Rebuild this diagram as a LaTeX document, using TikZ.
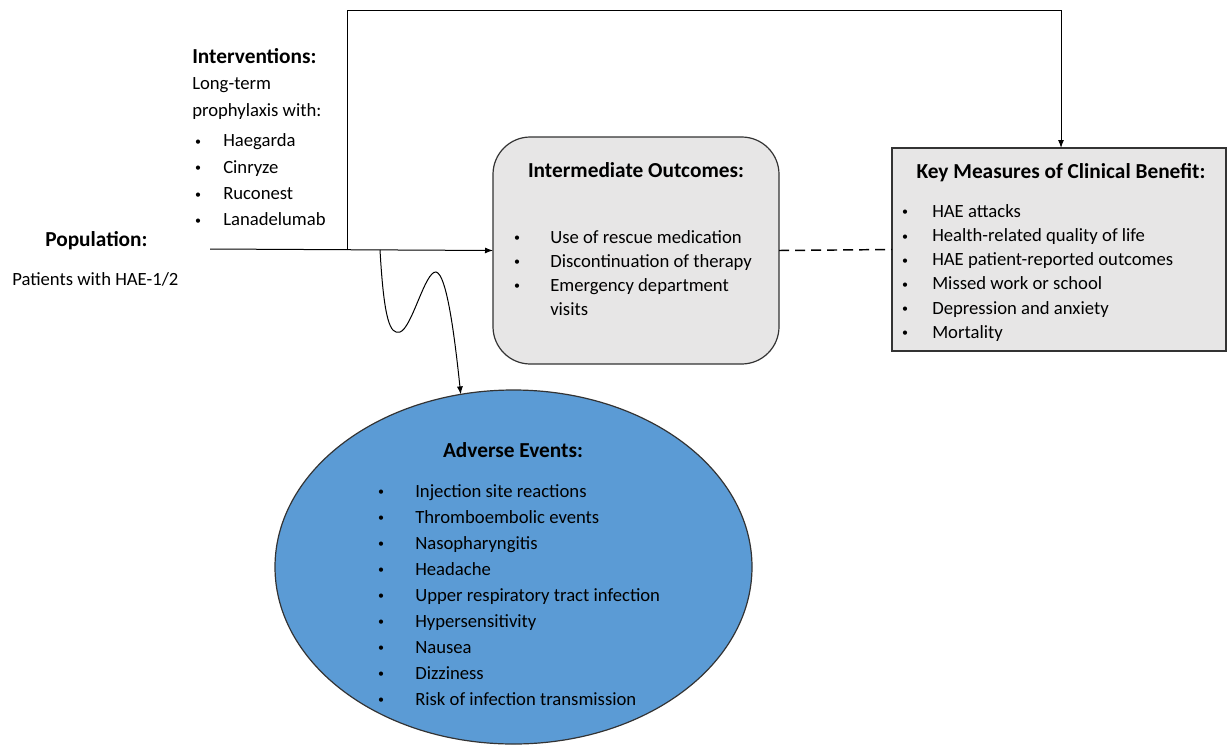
\documentclass[tikz,border=0pt]{standalone}
\usepackage{fontspec}
\setmainfont{Carlito}
\usepackage{tikz}
\usetikzlibrary{shapes.geometric,arrows.meta}
\definecolor{boxgray}{HTML}{E7E6E6}
\definecolor{aeblue}{HTML}{5B9BD5}
\tikzset{
	txt/.style={anchor=base west, inner sep=0pt, font=\fontsize{14}{17}\selectfont},
	head/.style={anchor=base, inner sep=0pt, font=\fontsize{16}{19}\selectfont\bfseries},
	dot/.style={anchor=base, inner sep=0pt, yshift=1pt, font=\fontsize{9}{11}\selectfont},
	conn/.style={-{Latex[length=6pt,width=4.5pt]}, line width=0.75pt},
	shp/.style={draw=black!80, line width=0.9pt, inner sep=0pt, outer sep=0pt},
}

\begin{document}
\begin{tikzpicture}[x=0.75pt, y=-0.75pt]
	\useasboundingbox (0,0) rectangle (1227,746);

	% boxes
	\node[shp, fill=boxgray, rounded corners=28pt, minimum width=214.5pt, minimum height=170.25pt] (io) at (636,250.5) {};
	\node[shp, fill=boxgray, minimum width=250.5pt, minimum height=152.25pt] (kb) at (1059,249.5) {};
	\node[shp, fill=aeblue, ellipse, minimum width=357.75pt, minimum height=265.5pt] (ae) at (513.5,567) {};

	% population and interventions
	\node[txt, font=\fontsize{16}{19}\selectfont\bfseries] (pop) at (45,246) {Population:};
	\node[txt] (poptext) at (12,285) {Patients with HAE-1/2};
	\node[txt, font=\fontsize{16}{19}\selectfont\bfseries] (int) at (192,63) {Interventions:};
	\node[txt] (int1) at (192,89) {Long-term};
	\node[txt] (int2) at (192,116) {prophylaxis with:};
	\foreach \t [count=\i] in {Haegarda, Cinryze, Ruconest, Lanadelumab} {
		\node[dot] (intdot\i) at (198, 120.5+26.3*\i) {\textbullet};
		\node[txt] (intitem\i) at (223, 120.5+26.3*\i) {\t};
	}

	% intermediate outcomes
	\node[head] (iohead) at (636,177) {Intermediate Outcomes:};
	\foreach \t [count=\i] in {Use of rescue medication, Discontinuation of therapy, Emergency department} {
		\node[dot] (iodot\i) at (517, 219+24*\i) {\textbullet};
		\node[txt] (ioitem\i) at (550, 219+24*\i) {\t};
	}
	\node[txt] (ioitem4) at (550,315) {visits};

	% key measures
	\node[head] (kbhead) at (1061,178) {Key Measures of Clinical Benefit:};
	\foreach \t [count=\i] in {HAE attacks, Health-related quality of life, HAE patient-reported outcomes, Missed work or school, Depression and anxiety, Mortality} {
		\node[dot] (kbdot\i) at (905, 193+24.2*\i) {\textbullet};
		\node[txt] (kbitem\i) at (932, 193+24.2*\i) {\t};
	}

	% adverse events
	\node[head] (aehead) at (513,457) {Adverse Events:};
	\foreach \t [count=\i] in {Injection site reactions, Thromboembolic events, Nasopharyngitis, Headache, Upper respiratory tract infection, Hypersensitivity, Nausea, Dizziness, Risk of infection transmission} {
		\node[dot] (aedot\i) at (381, 471+26*\i) {\textbullet};
		\node[txt] (aeitem\i) at (415, 471+26*\i) {\t};
	}

	% connectors
	\coordinate (start) at (210,249);
	\coordinate (branch) at (347,250);
	\coordinate (split) at (380,250);
	\coordinate (topright) at (1061,10);
	\draw[conn] (start) -- (io.west);
	\draw[conn] (branch) |- (topright) -- (topright |- kb.north);
	\draw[line width=1.1pt, dash pattern=on 7.5pt off 4.5pt] (io.east) -- (kb.west);
	\draw[conn] (split) .. controls (384,320) and (390,335) .. (400,332)
		.. controls (412,328) and (425,271) .. (436,272)
		.. controls (447,274) and (455,340) .. (ae.107);
\end{tikzpicture}
\end{document}
